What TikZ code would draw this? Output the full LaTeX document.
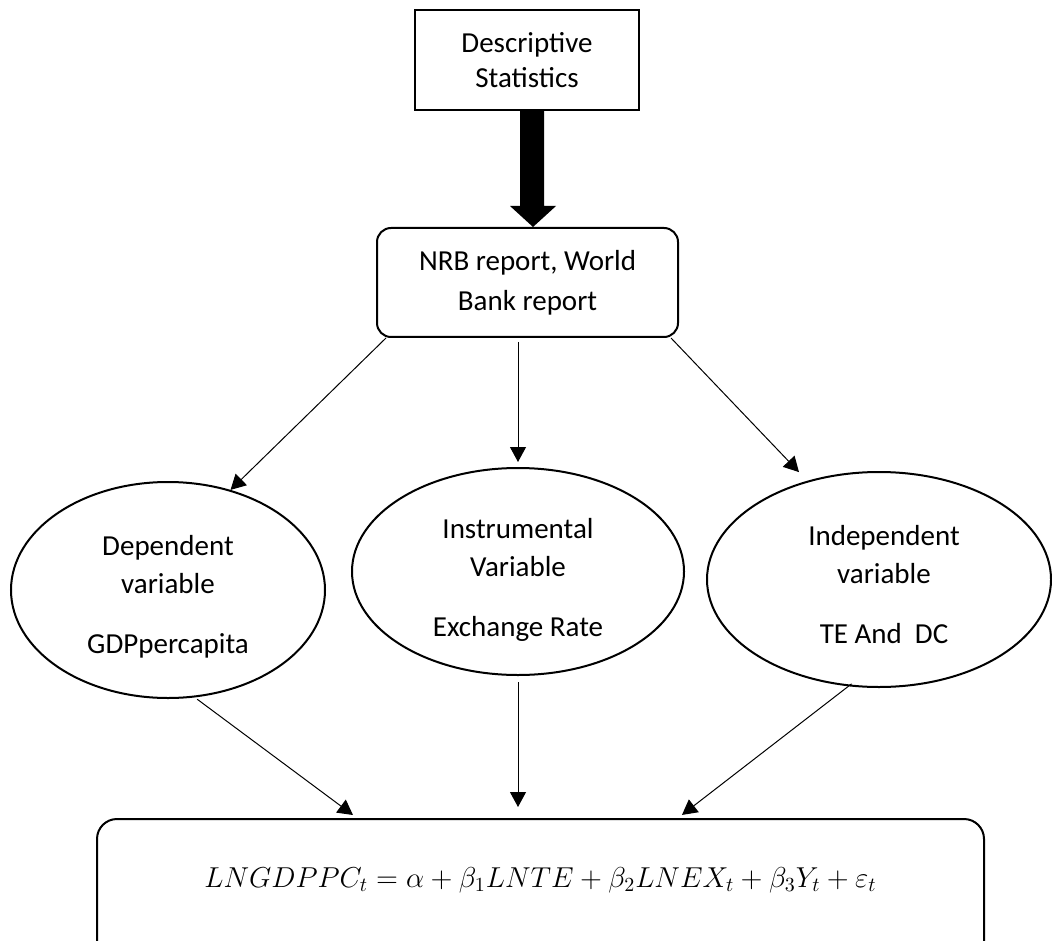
\documentclass[tikz,border=0pt]{standalone}
\usepackage[no-math]{fontspec}
\setmainfont{Carlito}
\usetikzlibrary{shapes.geometric,arrows.meta,calc}
\begin{document}
\begin{tikzpicture}[x=0.5pt,y=-0.5pt,
  txt/.style={font=\fontsize{14.5}{19}\selectfont, align=center, inner sep=0pt},
  rectbox/.style={draw, line width=1pt, rectangle, inner sep=0pt, align=center},
  ell/.style={draw, ellipse, line width=1pt, inner sep=0pt},
  arr/.style={line width=0.5pt, -{Triangle[length=7.5pt,width=8pt]}}]
\clip (0,0) rectangle (1052,940);
% top box
\node[rectbox, minimum width=112pt, minimum height=50pt,
      font=\fontsize{14.5}{17.5}\selectfont] (top) at (527,60) {Descriptive\\Statistics};
% source box
\node[rectbox, rounded corners=7pt, minimum width=150.5pt, minimum height=54.5pt,
      font=\fontsize{14.5}{20}\selectfont] (nrb) at (527.5,282.5) {NRB report, World\\Bank report};
% thick arrow
\fill ($(top.south)+(-7,0)$) -- ++(24,0) -- ++(0,95) coordinate (hr) -- ++(12,0)
   -- ($(nrb.north)+(5.5,0)$) -- ($(hr)+(-34,0)$) -- ($(hr)+(-24,0)$) -- cycle;
% ellipses
\node[ell, minimum width=157pt, minimum height=108pt] (e1) at (168,590) {};
\node[ell, minimum width=166pt, minimum height=103.5pt] (e2) at (518,571.5) {};
\node[ell, minimum width=172pt, minimum height=107.5pt] (e3) at (879,579.5) {};
\node[txt] (t1) at (168,597) {Dependent\\variable\\[11pt]GDPpercapita};
\node[txt] (t2) at (518,580) {Instrumental\\Variable\\[11pt]Exchange Rate};
\node[txt] (t3) at (884,585) {Independent\\variable\\[11pt]TE And\ \ DC};
% equation box (its lower edge lies below the picture)
\node[rectbox, rounded corners=10pt, minimum width=443.5pt, minimum height=72pt] (box) at (540.5,891) {};
\node[txt] (eq) at (540.5,880)
  {$LNGDPPC_t = \alpha + \beta_1 LNTE + \beta_2 LNEX_t + \beta_3 Y_t + \varepsilon_t$};
% connectors
\draw[arr] ($(nrb.south west)+(10,0)$) -- (e1.58);
\draw[arr, shorten <=2pt, shorten >=2.5pt] (nrb.south -| e2.north) -- (e2.north);
\draw[arr, shorten >=6pt] ($(nrb.south east)+(-8,0)$) -- (e3.126);
\draw[arr, shorten <=1.5pt, shorten >=2.5pt] (e1.-76) -- ($(box.north)+(-183.5,0)$);
\draw[arr, shorten <=3pt, shorten >=5.5pt] (e2.south) -- (e2.south |- box.north);
\draw[arr, shorten <=-2pt, shorten >=2.5pt] (e3.-106) -- ($(box.north)+(137.5,0)$);
\end{tikzpicture}
\end{document}
